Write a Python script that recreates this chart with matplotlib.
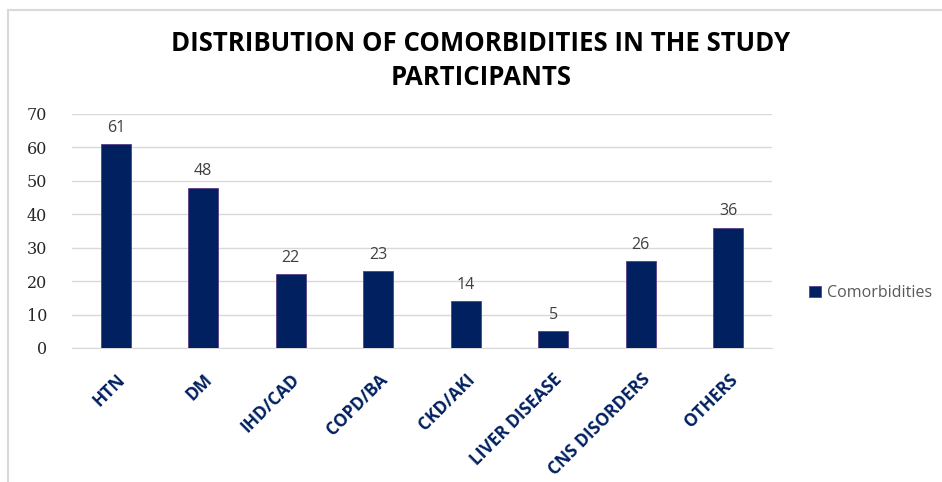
import matplotlib
matplotlib.use("Agg")
import matplotlib.pyplot as plt
from matplotlib.patches import Rectangle

categories = ["HTN", "DM", "IHD/CAD", "COPD/BA", "CKD/AKI", "LIVER DISEASE", "CNS DISORDERS", "OTHERS"]
values = [61, 48, 22, 23, 14, 5, 26, 36]
yticks = [0, 10, 20, 30, 40, 50, 60, 70]
series_name = "Comorbidities"
title = "DISTRIBUTION OF COMORBIDITIES IN THE STUDY\nPARTICIPANTS"

navy = "#002060"

fig = plt.figure(figsize=(9.42, 4.82), dpi=100)
fig.patches.append(Rectangle((8/942, -0.01), 1.0, 1 - 10/482 + 0.01, transform=fig.transFigure,
                             fill=False, edgecolor="#d9d9d9", linewidth=1.5))
ax = fig.add_axes([72/942, 1 - 348/482, 700/942, 234/482])

x = range(len(categories))
bars = ax.bar(x, values, width=0.34, color=navy, edgecolor="#5b3d8a", linewidth=0.6,
              label=series_name, zorder=3)
for xi, v in zip(x, values):
    ax.text(xi, v + 2.5, str(v), ha="center", va="bottom", fontsize=11.5,
            color="#404040", family="Open Sans")

ax.set_xlim(-0.5, len(categories) - 0.5)
ax.set_ylim(0, 70)
ax.set_yticks(yticks)
ax.set_yticklabels([str(t) for t in yticks], fontsize=11.5, family="DejaVu Serif", color="#262626")
ax.yaxis.grid(True, color="#d9d9d9", linewidth=1, zorder=0)
ax.tick_params(axis="y", length=0, pad=18)
ax.tick_params(axis="x", length=0, pad=16)
ax.set_xticks(list(x))
ax.set_xticklabels(categories, rotation=45, ha="right", rotation_mode="anchor",
                   fontsize=12.5, fontweight="bold", color=navy, family="Open Sans")
for s in ["top", "right", "left"]:
    ax.spines[s].set_visible(False)
ax.spines["bottom"].set_color("#d9d9d9")

fig.text(481/942, 1 - 60.5/482, title, ha="center", va="center", fontsize=18.5,
         fontweight="bold", family="Open Sans", color="black", linespacing=1.35)

leg = ax.legend(loc="center left", bbox_to_anchor=(795/942, 1 - 293/482),
                bbox_transform=fig.transFigure, frameon=False,
                prop={"family": "Open Sans", "size": 11.5}, handlelength=0.7, handleheight=0.7,
                handletextpad=0.4)
for t in leg.get_texts():
    t.set_color("#595959")

fig.savefig("out.png", dpi=100)
